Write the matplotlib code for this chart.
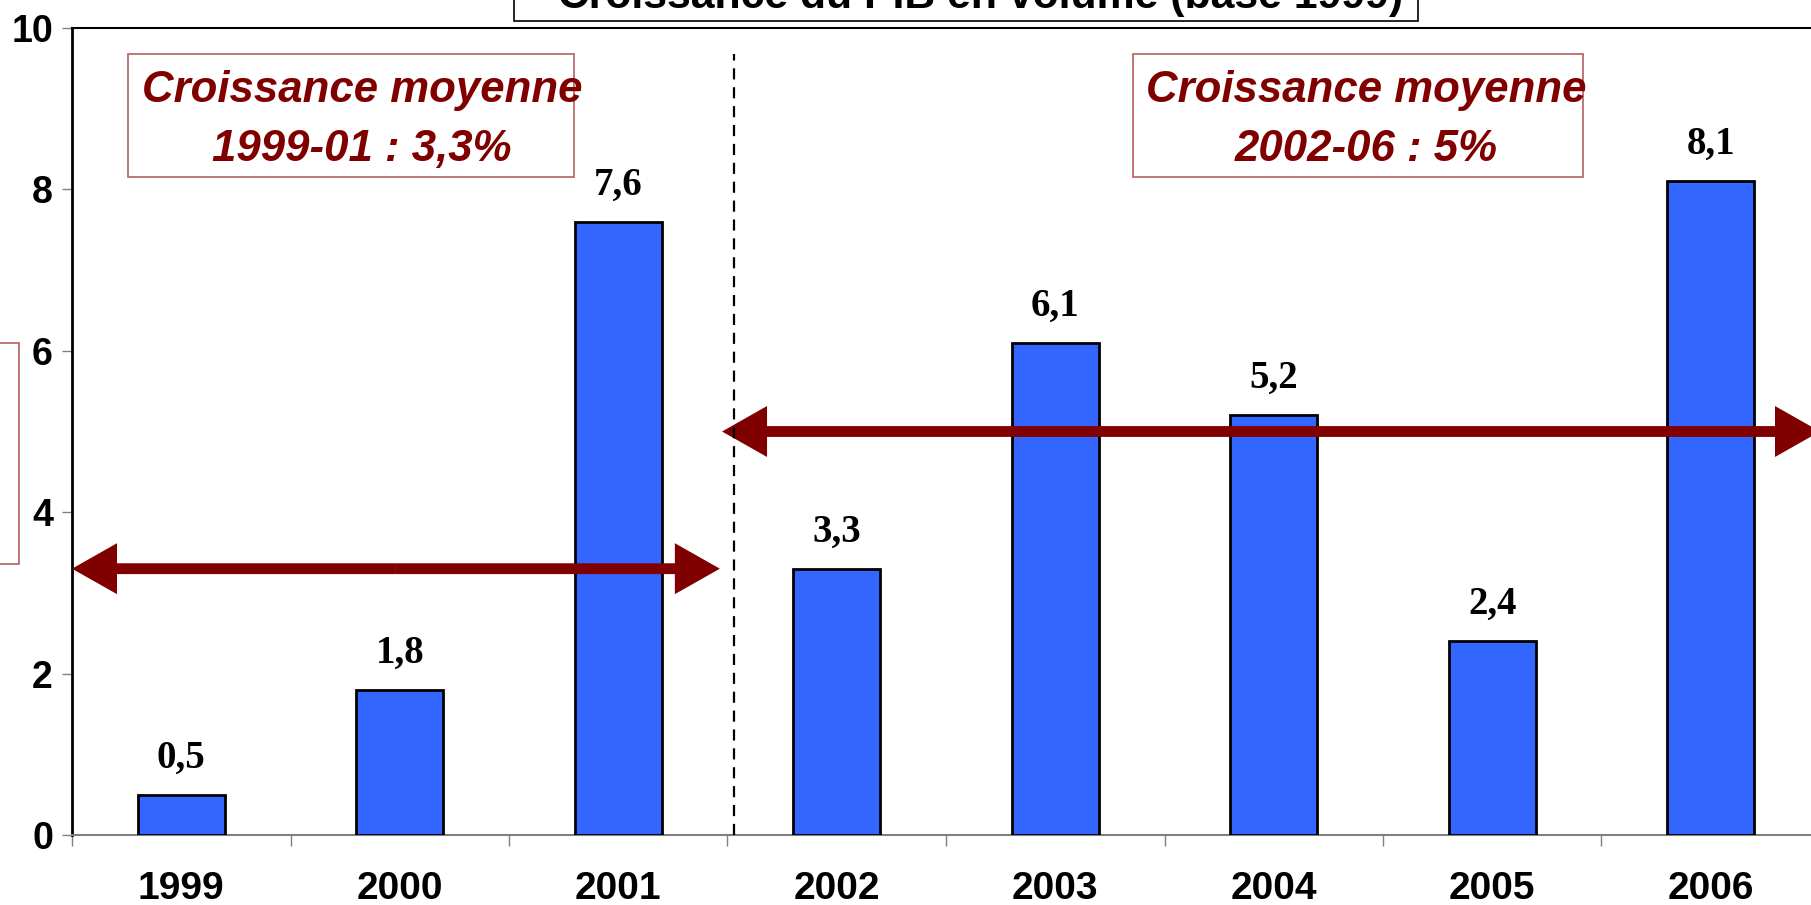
import numpy as np
import matplotlib
matplotlib.use('Agg')
import matplotlib.pyplot as plt
from matplotlib.patches import Rectangle, FancyArrowPatch, ArrowStyle
from matplotlib import font_manager as fm

# ---------------- data ----------------
years = ['1999', '2000', '2001', '2002', '2003', '2004', '2005', '2006']
growth = [0.5, 1.8, 7.6, 3.3, 6.1, 5.2, 2.4, 8.1]
value_labels = ['0,5', '1,8', '7,6', '3,3', '6,1', '5,2', '2,4', '8,1']
yticks = [0, 2, 4, 6, 8, 10]
avg_1999_01 = 3.3
avg_2002_06 = 5.0
title = 'Croissance du PIB en volume (base 1999)'
box1_lines = ['Croissance moyenne', '1999-01 : 3,3%']
box2_lines = ['Croissance moyenne', '2002-06 : 5%']

# ---------------- layout helpers ----------------
W, H = 1811, 905
fig = plt.figure(figsize=(W / 100, H / 100), dpi=100)
fig.patch.set_facecolor('white')


def fx(px):
    return px / W


def fy(py):
    return 1 - py / H


def has_font(name):
    try:
        fm.findfont(fm.FontProperties(family=name), fallback_to_default=False)
        return True
    except Exception:
        return False


narrow = 'Liberation Sans Narrow' if has_font('Liberation Sans Narrow') else 'Liberation Sans'
sans = 'Liberation Sans'
serif = 'Liberation Serif'
MAROON = '#800000'
BLUE = '#3366FF'

ax = fig.add_axes([fx(72), fy(835), fx(1820) - fx(72), fy(28) - fy(835)])
x = np.arange(len(years))
ax.set_xlim(-0.5, len(years) - 0.5)
ax.set_ylim(0, 10)

ax.bar(x, growth, width=0.4, color=BLUE, edgecolor='black', linewidth=2, zorder=3)

for xi, v, lab in zip(x, growth, value_labels):
    ax.annotate(lab, (xi, v), xytext=(0, 19.5), textcoords='offset points',
                ha='center', va='baseline', fontsize=28, fontweight='bold',
                family=serif, color='black', zorder=5)

# axes styling
ax.set_xticks(x)
ax.set_xticklabels(years, fontsize=28, fontweight='bold', family=sans)
ax.tick_params(axis='x', which='major', length=0, pad=26)
ax.set_xticks(np.arange(-0.5, len(years), 1), minor=True)
ax.tick_params(axis='x', which='minor', length=8, width=1, color='#808080', direction='out')
ax.set_yticks(yticks)
ax.set_yticklabels([str(t) for t in yticks], fontsize=27, fontweight='bold', family=sans)
ax.tick_params(axis='y', length=7.2, width=1, color='#808080', pad=6.5)

ax.spines['left'].set_linewidth(2)
ax.spines['left'].set_color('black')
ax.spines['top'].set_linewidth(1.5)
ax.spines['top'].set_color('black')
ax.spines['bottom'].set_linewidth(1.5)
ax.spines['bottom'].set_color('#808080')
ax.spines['right'].set_visible(False)

# separator
sep_x = 2.53
ax.plot([sep_x, sep_x], [0, 9.68], color='black', lw=1.6, dashes=(5, 3.5), zorder=6,
        clip_on=False)

# average arrows (double headed, made of two simple arrows)
style = ArrowStyle.Simple(head_length=32.4, head_width=36.7, tail_width=7.8)


def double_arrow(x0, x1, y):
    mid = (x0 + x1) / 2
    for end in (x0, x1):
        a = FancyArrowPatch((mid, y), (end, y), arrowstyle=style, mutation_scale=1,
                            color=MAROON, lw=0, shrinkA=0, shrinkB=0,
                            clip_on=False, zorder=4)
        ax.add_patch(a)


double_arrow(-0.5, 2.465, avg_1999_01)
double_arrow(2.475, 7.5, avg_2002_06)

renderer = fig.canvas.get_renderer()

# annotation boxes
for (l, t, r, b), lines, cx in [((128, 54, 574, 177), box1_lines, 362),
                                ((1133, 54, 1583, 177), box2_lines, 1366)]:
    fig.patches.append(Rectangle((fx(l), fy(b)), fx(r) - fx(l), fy(t) - fy(b),
                                 transform=fig.transFigure, fill=False,
                                 edgecolor='#B86B6B', lw=1.3))
    texts = []
    for line, base in zip(lines, (102, 161)):
        texts.append(fig.text(fx(cx), fy(base), line, ha='center', va='baseline',
                              fontsize=34, fontweight='bold', fontstyle='italic',
                              family=narrow, color=MAROON))
    w0 = texts[0].get_window_extent(renderer).width
    size = 34 * 440 / w0
    for t_ in texts:
        t_.set_fontsize(size)

# partial box on left edge
fig.patches.append(Rectangle((fx(-10), fy(564)), fx(19) - fx(-10), fy(343) - fy(564),
                             transform=fig.transFigure, fill=False,
                             edgecolor='#B86B6B', lw=1.3))

# title box (cut at the top)
fig.patches.append(Rectangle((fx(514), fy(21)), fx(1418) - fx(514), fy(-10) - fy(21),
                             transform=fig.transFigure, facecolor='white',
                             edgecolor='black', lw=1.2, zorder=2))
tt = fig.text(fx(981), fy(8), title, ha='center', va='baseline', fontsize=28,
              fontweight='bold', family=sans, color='black', zorder=3)
wpx = tt.get_window_extent(renderer).width
tt.set_fontsize(28 * 844 / wpx)

fig.savefig('out.png', dpi=100, facecolor='white')
